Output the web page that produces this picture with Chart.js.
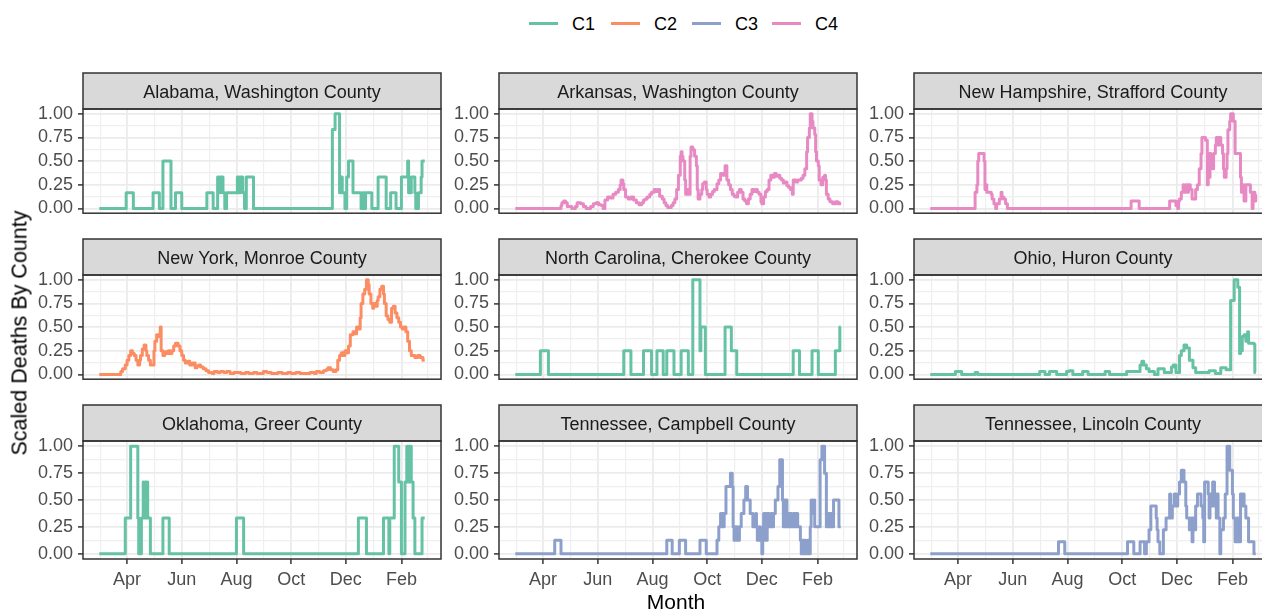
<!DOCTYPE html>
<html>
<head>
<meta charset="utf-8">
<script src="https://cdn.jsdelivr.net/npm/chart.js@4.4.1/dist/chart.umd.min.js"></script>
<style>
  html, body { margin: 0; padding: 0; background: #fff; }
  body { position: relative; width: 1262px; height: 612px; overflow: hidden; font-family: "Liberation Sans", Arial, sans-serif; }
  .panel { position: absolute; }
  .panel canvas { display: block; }
  .key { position: absolute; height: 3px; width: 29px; }
  .keytext { position: absolute; font-size: 18px; color: #000; line-height: 20px; }
  .ytitle { position: absolute; font-size: 21.5px; color: #000; white-space: nowrap; transform: translate(-50%, -50%) rotate(-90deg); }
  .xtitle { position: absolute; font-size: 21px; color: #000; white-space: nowrap; transform: translate(-50%, -50%); }
</style>
</head>
<body>
<script>
// days are counted from 2020-03-01
const monthLabels = ['Apr', 'Jun', 'Aug', 'Oct', 'Dec', 'Feb'];
const monthDays = [31, 92, 153, 214, 275, 337];
const minorDays = [1, 61.5, 122.5, 183.5, 244.5, 306, 366.5];
const yTicks = [0, 0.25, 0.5, 0.75, 1];
const yMinor = [0.125, 0.375, 0.625, 0.875];

const clusters = ['C1', 'C2', 'C3', 'C4'];
const clusterColors = ['#66c2a5', '#fc8d62', '#8da0cb', '#e78ac3'];

const counties = [
  'Alabama, Washington County', 'Arkansas, Washington County', 'New Hampshire, Strafford County',
  'New York, Monroe County', 'North Carolina, Cherokee County', 'Ohio, Huron County',
  'Oklahoma, Greer County', 'Tennessee, Campbell County', 'Tennessee, Lincoln County'
];
const countyCluster = ['C1', 'C4', 'C4', 'C2', 'C1', 'C1', 'C1', 'C3', 'C3'];

// [day, scaled deaths] - the value holds from that day until the next entry
const alabama = [[0,0],[30,0.167],[38,0],[60,0.167],[67,0],[71,0.5],[80,0],[85,0.167],[92,0],[120,0.167],[127,0],[132,0.333],[134,0.167],[135,0.333],[138,0.167],[140,0],[142,0.167],[154,0.333],[156,0.167],[157,0.333],[160,0.167],[162,0],[164,0.333],[172,0],[260,0.833],[263,1],[268,0.167],[269,0.333],[271,0.167],[274,0],[276,0.333],[278,0.5],[283,0.167],[292,0],[294,0.167],[296,0],[297,0.167],[304,0],[311,0.333],[320,0],[325,0.167],[331,0],[337,0.333],[344,0.5],[345,0.167],[348,0.333],[352,0.167],[353,0],[356,0.167],[359,0.333],[360,0.5],[363,0.5]];

const arkansas = [[0,0],[51,0.03],[52,0.06],[54,0.08],[56,0.06],[58,0.02],[63,0],[67,0.02],[69,0.06],[73,0.05],[76,0.02],[79,0],[84,0.02],[87,0.05],[90,0.06],[93,0.04],[96,0.03],[98,0],[100,0.09],[103,0.12],[106,0.11],[109,0.15],[112,0.17],[115,0.2],[117,0.25],[118,0.3],[120,0.26],[121,0.2],[123,0.12],[126,0.1],[129,0.12],[132,0.09],[135,0.06],[138,0.04],[141,0.06],[143,0.09],[145,0.1],[147,0.12],[150,0.15],[152,0.17],[155,0.2],[157,0.18],[159,0.2],[161,0.13],[164,0.1],[166,0.06],[168,0.03],[170,0.01],[174,0.03],[176,0.06],[178,0.1],[180,0.2],[182,0.35],[184,0.55],[185,0.6],[186,0.55],[187,0.5],[189,0.3],[190,0.15],[192,0.2],[194,0.15],[195,0.55],[196,0.65],[198,0.62],[200,0.55],[202,0.45],[203,0.2],[204,0.1],[206,0.15],[208,0.2],[209,0.26],[211,0.28],[213,0.2],[214,0.15],[216,0.12],[218,0.15],[220,0.18],[222,0.2],[225,0.26],[227,0.3],[229,0.37],[232,0.35],[234,0.45],[236,0.3],[238,0.25],[240,0.2],[242,0.15],[244,0.13],[246,0.12],[248,0.17],[250,0.2],[252,0.17],[254,0.1],[256,0.08],[258,0.05],[260,0.1],[262,0.15],[264,0.2],[266,0.18],[268,0.2],[270,0.17],[272,0.15],[274,0.07],[275,0.05],[277,0.12],[279,0.18],[281,0.2],[283,0.3],[285,0.35],[287,0.33],[289,0.37],[291,0.34],[293,0.35],[295,0.32],[297,0.3],[299,0.27],[301,0.28],[303,0.24],[305,0.22],[307,0.2],[309,0.15],[310,0.3],[313,0.28],[315,0.3],[319,0.32],[321,0.35],[323,0.42],[325,0.6],[326,0.75],[328,0.85],[329,1],[331,0.92],[332,0.85],[334,0.78],[335,0.6],[336,0.5],[338,0.45],[339,0.3],[341,0.25],[343,0.33],[345,0.35],[346,0.3],[347,0.15],[349,0.1],[351,0.07],[354,0.05],[357,0.07],[360,0.05],[362,0.06],[363,0.06]];

const newHampshire = [[0,0],[50,0.17],[52,0.25],[53,0.5],[54,0.58],[60,0.5],[61,0.2],[62,0.25],[63,0.17],[68,0.15],[69,0.1],[71,0.05],[73,0],[74,0.05],[77,0.1],[79,0.17],[80,0.12],[82,0.1],[84,0.05],[86,0],[224,0.08],[233,0],[267,0.08],[274,0.03],[276,0],[277,0.08],[278,0.1],[280,0.17],[282,0.25],[283,0.17],[285,0.25],[287,0.17],[288,0.25],[290,0.2],[292,0.1],[296,0.2],[298,0.25],[300,0.42],[302,0.58],[303,0.75],[307,0.72],[309,0.25],[310,0.58],[311,0.33],[312,0.58],[313,0.5],[315,0.42],[316,0.58],[318,0.67],[319,0.75],[321,0.67],[322,0.75],[324,0.67],[326,0.58],[327,0.42],[328,0.33],[330,0.42],[331,0.58],[332,0.83],[334,0.92],[335,1],[338,0.92],[340,0.58],[346,0.33],[347,0.17],[349,0.25],[350,0.08],[352,0.25],[357,0.17],[359,0],[360,0.17],[362,0.08],[363,0.15]];

const newYork = [[0,0],[24,0.03],[26,0.06],[29,0.1],[31,0.15],[33,0.2],[35,0.25],[37,0.22],[39,0.2],[41,0.15],[43,0.1],[45,0.15],[46,0.2],[48,0.27],[50,0.31],[52,0.25],[53,0.2],[55,0.15],[57,0.1],[61,0.25],[62,0.35],[64,0.42],[66,0.4],[68,0.5],[69,0.25],[71,0.2],[73,0.24],[75,0.22],[77,0.25],[79,0.22],[81,0.25],[83,0.3],[85,0.33],[88,0.3],[90,0.25],[92,0.2],[94,0.15],[96,0.12],[99,0.14],[101,0.1],[104,0.12],[107,0.07],[109,0.09],[111,0.1],[113,0.08],[116,0.06],[119,0.04],[122,0.02],[126,0.01],[128,0.03],[132,0.02],[135,0.03],[139,0.02],[142,0.03],[146,0.01],[150,0.02],[158,0.01],[163,0.02],[167,0.01],[172,0.02],[176,0.01],[183,0.03],[187,0.02],[192,0.01],[199,0.02],[204,0.01],[210,0.02],[214,0.01],[219,0.02],[224,0.01],[235,0.02],[240,0.01],[242,0.03],[246,0.02],[250,0.04],[253,0.05],[255,0.07],[258,0.05],[261,0.03],[264,0.05],[266,0.15],[268,0.2],[270,0.23],[272,0.2],[274,0.25],[276,0.23],[278,0.3],[280,0.42],[283,0.45],[285,0.43],[287,0.5],[289,0.48],[291,0.6],[292,0.75],[294,0.85],[296,0.9],[298,1],[300,0.95],[301,0.85],[303,0.75],[305,0.7],[306,0.75],[308,0.72],[310,0.78],[311,0.82],[313,0.9],[315,0.93],[317,0.85],[318,0.75],[320,0.62],[322,0.58],[324,0.55],[326,0.7],[328,0.72],[330,0.65],[332,0.6],[334,0.55],[336,0.5],[338,0.48],[340,0.5],[342,0.45],[344,0.35],[346,0.25],[348,0.2],[352,0.18],[355,0.2],[358,0.18],[361,0.15],[363,0.15]];

const northCarolina = [[0,0],[28,0.25],[37,0],[121,0.25],[129,0],[143,0.25],[152,0],[158,0.25],[165,0],[169,0.25],[177,0],[185,0.25],[193,0],[198,1],[206,0.25],[207,0.5],[212,0],[234,0.5],[241,0.25],[247,0],[310,0.25],[317,0],[331,0.25],[338,0],[357,0.25],[362,0.5],[363,0.5]];

const ohio = [[0,0],[28,0.03],[35,0],[50,0.02],[53,0],[122,0.03],[128,0],[133,0.03],[141,0],[152,0.03],[155,0.04],[159,0],[170,0.03],[176,0],[195,0.03],[200,0],[219,0.03],[234,0.1],[236,0.14],[238,0.1],[241,0.06],[244,0.03],[250,0],[254,0.06],[261,0.02],[269,0.08],[271,0.1],[274,0.02],[278,0.2],[280,0.25],[283,0.31],[286,0.28],[289,0.15],[293,0.07],[296,0.02],[311,0.04],[318,0.01],[324,0.07],[330,0.05],[335,0.78],[339,1],[343,0.92],[345,0.22],[346,0.35],[347,0.25],[348,0.4],[350,0.42],[352,0.35],[354,0.45],[355,0.33],[361,0.32],[362,0.02],[363,0.02]];

const oklahoma = [[0,0],[29,0.333],[35,1],[43,0.333],[44,0],[47,0.333],[49,0.667],[50,0.333],[51,0.667],[52,0.333],[53,0.667],[54,0.333],[57,0],[71,0.333],[78,0],[153,0.333],[161,0],[289,0.333],[298,0],[317,0.333],[323,0],[324,0.333],[329,1],[334,0.667],[337,0],[341,0.667],[343,1],[344,0.667],[345,1],[346,0.667],[347,1],[348,0.667],[350,0.333],[352,0],[360,0.333],[363,0.333]];

const campbell = [[0,0],[44,0.125],[51,0],[169,0.125],[175,0],[183,0.125],[190,0],[206,0.125],[213,0],[225,0.125],[227,0.25],[229,0.375],[230,0.25],[231,0.375],[232,0.25],[233,0.375],[235,0.625],[240,0.75],[242,0.625],[243,0.25],[244,0.125],[245,0.25],[246,0.125],[247,0.25],[248,0.125],[250,0.25],[252,0.375],[255,0.5],[257,0.625],[259,0.5],[262,0.375],[265,0.25],[268,0.375],[269,0.25],[270,0.125],[272,0.25],[273,0.125],[275,0],[276,0.25],[277,0.375],[278,0.125],[279,0.375],[280,0.125],[281,0.375],[283,0.25],[285,0.375],[287,0.25],[288,0.375],[290,0.5],[293,0.625],[295,0.875],[298,0.5],[299,0.25],[300,0.5],[301,0.25],[302,0.5],[303,0.25],[304,0.375],[306,0.25],[307,0.375],[308,0.25],[310,0.375],[312,0.25],[313,0.375],[315,0.25],[318,0.125],[319,0],[320,0.125],[322,0],[323,0.125],[324,0],[326,0.125],[328,0],[329,0.25],[330,0.5],[331,0.375],[333,0.5],[334,0.25],[340,0.875],[342,1],[345,0.75],[347,0.25],[348,0.375],[349,0.25],[350,0.375],[351,0.25],[352,0.375],[353,0.25],[355,0.5],[360,0.5],[361,0.25],[363,0.25]];

const lincoln = [[0,0],[143,0.111],[150,0],[220,0.111],[227,0],[234,0.111],[239,0],[241,0.111],[244,0.222],[246,0.444],[252,0.333],[253,0.222],[254,0.111],[256,0],[260,0.222],[263,0.333],[267,0.556],[268,0.444],[269,0.333],[270,0.444],[272,0.556],[274,0.444],[276,0.556],[278,0.667],[280,0.778],[283,0.667],[285,0.444],[286,0.333],[289,0.222],[291,0.333],[292,0.111],[293,0.333],[294,0.222],[296,0.444],[298,0.556],[302,0.444],[304,0.333],[305,0.111],[306,0.667],[310,0.556],[311,0.333],[312,0.556],[313,0.444],[315,0.667],[317,0.444],[318,0.556],[319,0.333],[320,0.556],[321,0.333],[323,0],[324,0.222],[327,0.333],[329,0.556],[331,1],[334,0.778],[337,0.556],[338,0.333],[340,0.111],[342,0.333],[344,0.111],[346,0.556],[348,0.444],[349,0.556],[350,0.444],[352,0.333],[355,0.111],[360,0.111],[361,0],[363,0]];

const countySeries = [alabama, arkansas, newHampshire, newYork, northCarolina, ohio, oklahoma, campbell, lincoln];

// layout of the facet grid (pixels)
const COL_X = [83, 499, 914];
const ROW_Y = [73, 239, 405];
const PANEL_W = 358, PANEL_H = 118, STRIP_H = 36;
const AXIS_W = 70, XAXIS_H = 40, PAD = 2;
const FONT = '"Liberation Sans", Arial, sans-serif';

const facetFrame = {
  id: 'facetFrame',
  beforeDraw(chart) {
    const { ctx, chartArea: a } = chart;
    ctx.save();
    ctx.fillStyle = '#d9d9d9';
    ctx.fillRect(a.left, a.top - STRIP_H, a.right - a.left, STRIP_H);
    ctx.restore();
  },
  afterDraw(chart, args, opts) {
    const { ctx, chartArea: a } = chart;
    ctx.save();
    ctx.strokeStyle = '#333333';
    ctx.lineWidth = 1.5;
    ctx.strokeRect(a.left, a.top - STRIP_H, a.right - a.left, STRIP_H);
    ctx.strokeRect(a.left, a.top, a.right - a.left, a.bottom - a.top);
    ctx.fillStyle = '#1a1a1a';
    ctx.font = '18px ' + FONT;
    ctx.textAlign = 'center';
    ctx.textBaseline = 'middle';
    ctx.fillText(opts.title, (a.left + a.right) / 2, a.top - STRIP_H / 2 + 2.5);
    ctx.restore();
  }
};

const isMajorX = v => monthDays.includes(v);
const isMajorY = v => yTicks.includes(v);

counties.forEach((name, i) => {
  const col = i % 3, row = Math.floor(i / 3);
  const bottom = row === 2;
  const w = AXIS_W + PANEL_W + PAD;
  const h = PAD + STRIP_H + PANEL_H + (bottom ? XAXIS_H : 0) + PAD;
  const wrap = document.createElement('div');
  wrap.className = 'panel';
  wrap.style.left = (COL_X[col] - AXIS_W) + 'px';
  wrap.style.top = (ROW_Y[row] - PAD) + 'px';
  wrap.style.width = w + 'px';
  wrap.style.height = h + 'px';
  const canvas = document.createElement('canvas');
  canvas.width = w;
  canvas.height = h;
  wrap.appendChild(canvas);
  document.body.appendChild(wrap);

  const color = clusterColors[clusters.indexOf(countyCluster[i])];

  new Chart(canvas, {
    type: 'line',
    data: {
      datasets: [{
        label: countyCluster[i],
        data: countySeries[i].map(([d, v]) => ({ x: d, y: v })),
        borderColor: color,
        borderWidth: 3,
        borderJoinStyle: 'round',
        pointRadius: 0,
        stepped: 'before',
        fill: false
      }]
    },
    options: {
      responsive: false,
      devicePixelRatio: 1,
      animation: false,
      events: [],
      layout: { padding: { top: PAD + STRIP_H, right: PAD, bottom: PAD, left: 0 } },
      plugins: {
        legend: { display: false },
        tooltip: { enabled: false },
        facetFrame: { title: name }
      },
      scales: {
        x: {
          type: 'linear',
          min: -18.15,
          max: 381.15,
          afterBuildTicks: scale => {
            scale.ticks = minorDays.concat(monthDays).sort((a, b) => a - b).map(v => ({ value: v }));
          },
          afterFit: scale => { scale.height = bottom ? XAXIS_H : 0; },
          border: { display: false },
          grid: {
            color: c => isMajorX(c.tick.value) ? '#ebebeb' : '#efefef',
            lineWidth: c => isMajorX(c.tick.value) ? 1.8 : 1.2,
            drawTicks: bottom,
            tickLength: 5,
            tickWidth: 1.5,
            tickColor: c => isMajorX(c.tick.value) ? '#333333' : 'rgba(0,0,0,0)'
          },
          ticks: {
            display: bottom,
            autoSkip: false,
            maxRotation: 0,
            padding: 5,
            color: '#4d4d4d',
            font: { family: FONT, size: 18 },
            callback: v => isMajorX(v) ? monthLabels[monthDays.indexOf(v)] : ''
          }
        },
        y: {
          min: -0.05,
          max: 1.05,
          afterBuildTicks: scale => {
            scale.ticks = yMinor.concat(yTicks).sort((a, b) => a - b).map(v => ({ value: v }));
          },
          afterFit: scale => { scale.width = AXIS_W; },
          border: { display: false },
          grid: {
            color: c => isMajorY(c.tick.value) ? '#ebebeb' : '#efefef',
            lineWidth: c => isMajorY(c.tick.value) ? 1.8 : 1.2,
            tickLength: 5,
            tickWidth: 1.5,
            tickColor: c => isMajorY(c.tick.value) ? '#333333' : 'rgba(0,0,0,0)'
          },
          ticks: {
            autoSkip: false,
            padding: 5,
            color: '#4d4d4d',
            font: { family: FONT, size: 18 },
            callback: v => isMajorY(v) ? v.toFixed(2) : ''
          }
        }
      }
    },
    plugins: [facetFrame]
  });
});

// legend across the top
const KEY_X = [529, 611, 692, 772];
clusters.forEach((c, i) => {
  const key = document.createElement('div');
  key.className = 'key';
  key.style.left = KEY_X[i] + 'px';
  key.style.top = '22px';
  key.style.background = clusterColors[i];
  document.body.appendChild(key);
  const t = document.createElement('div');
  t.className = 'keytext';
  t.style.left = (KEY_X[i] + 43) + 'px';
  t.style.top = '14px';
  t.textContent = c;
  document.body.appendChild(t);
});

const yTitle = document.createElement('div');
yTitle.className = 'ytitle';
yTitle.style.left = '20px';
yTitle.style.top = '333px';
yTitle.textContent = 'Scaled Deaths By County';
document.body.appendChild(yTitle);

const xTitle = document.createElement('div');
xTitle.className = 'xtitle';
xTitle.style.left = '676px';
xTitle.style.top = '602px';
xTitle.textContent = 'Month';
document.body.appendChild(xTitle);
</script>
</body>
</html>
